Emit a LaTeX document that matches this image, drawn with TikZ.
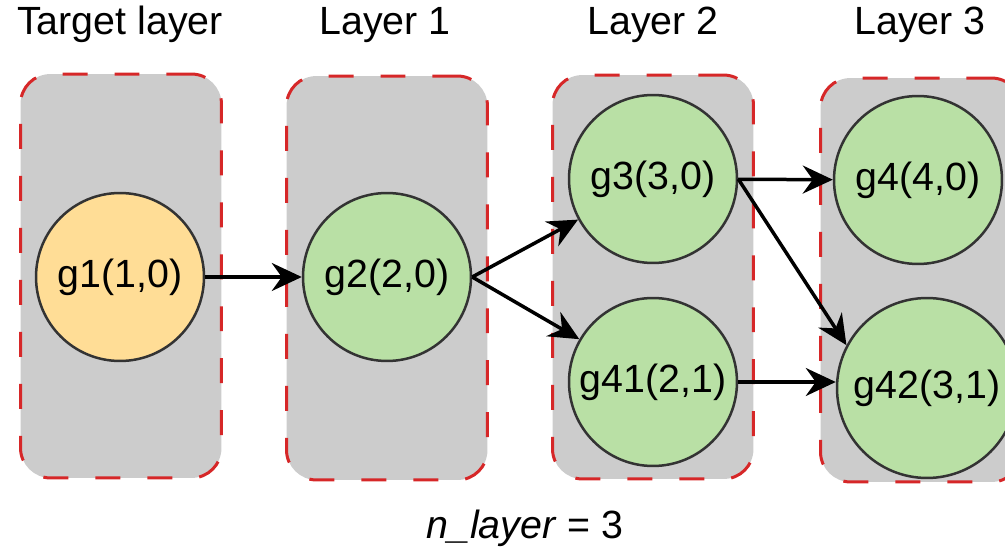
\documentclass[tikz,border=0pt]{standalone}
\usepackage{fontspec}
\setmainfont{Liberation Sans}
\usepackage{xcolor}
\usetikzlibrary{positioning, arrows.meta, shapes}

\definecolor{boxgray}{RGB}{204,204,204}
\definecolor{boxred}{RGB}{214,39,40}
\definecolor{nodegreen}{RGB}{185,224,165}
\definecolor{nodeorange}{RGB}{255,221,150}
\definecolor{rimgray}{RGB}{51,51,51}

\begin{document}
\begin{tikzpicture}[x=0.02cm, y=-0.02cm,
    font=\fontsize{22.4}{26}\selectfont,
    layerbox/.style={rectangle, rounded corners=0.6cm, fill=boxgray, draw=boxred, line width=0.06cm, dash pattern=on 0.5cm off 0.54cm, minimum width=4.02cm, minimum height=8.08cm},
    gnode/.style={circle, draw=rimgray, line width=0.05cm, fill=nodegreen, minimum size=3.36cm, inner sep=0pt},
    link/.style={-{Stealth[length=6mm, width=5.6mm, inset=2mm]}, line width=0.07cm}]
            \useasboundingbox (0,0) rectangle (1005,550);

            \node[layerbox] (L0) at (121,276) {};
            \node[layerbox] (L1) at (387,278) {};
            \node[layerbox] (L2) at (653,277) {};
            \node[layerbox] (L3) at (921,280) {};

            \node[anchor=base] (t0) at (120,35) {Target layer};
            \node[anchor=base] (t1) at (385,35) {Layer 1};
            \node[anchor=base] (t2) at (653,35) {Layer 2};
            \node[anchor=base] (t3) at (920,35) {Layer 3};

            \node[gnode, fill=nodeorange] (g1) at (120,277) {g1(1,0)};
            \node[gnode] (g2) at (387,277) {g2(2,0)};
            \node[gnode] (g3) at (653,179) {g3(3,0)};
            \node[gnode] (g41) at (653,382) {g41(2,1)};
            \node[gnode] (g4) at (918,180) {g4(4,0)};
            \node[gnode, minimum size=3.6cm] (g42) at (927,388) {g42(3,1)};

            \draw[link] (g1) -- (g2);
            \draw[link] (g2.east) -- (g3);
            \draw[link] (g2.east) -- (g41);
            \draw[link] (g3) -- (g4);
            \draw[link] (g3.east) -- (g42.152);
            \draw[link] (g41.east) -- (g42.west |- g41.east);

            \node[anchor=base] (nl) at (525,539) {\textit{n\_layer} = 3};
        \end{tikzpicture}
\end{document}
